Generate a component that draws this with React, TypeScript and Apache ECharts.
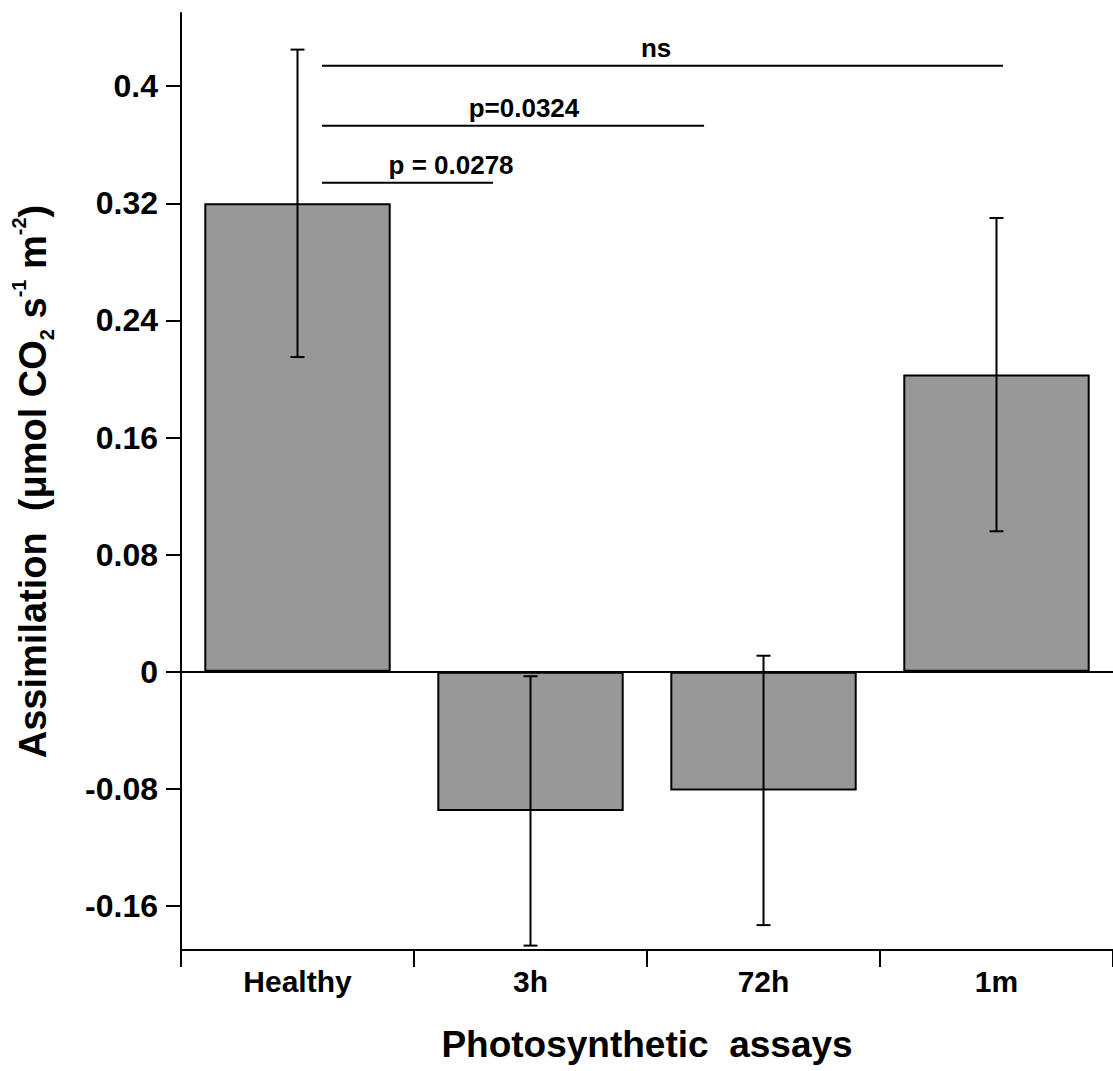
import React, { useEffect, useRef } from "react";
import * as echarts from "echarts";

const categories = ["Healthy", "3h", "72h", "1m"];
const means = [0.32, -0.095, -0.081, 0.203];
const errors = [0.105, 0.092, 0.092, 0.107];

const yTickValues = [-0.16, -0.08, 0, 0.08, 0.16, 0.24, 0.32, 0.4];
const yTickLabels = ["-0.16", "-0.08", "0", "0.08", "0.16", "0.24", "0.32", "0.4"];

// significance annotations (x in category units on a hidden 0..4 axis)
const sigLabels = ["p = 0.0278", "p=0.0324", "ns"];
const sigY = [0.334, 0.373, 0.414];
const sigX0 = [0.605, 0.605, 0.605];
const sigX1 = [1.339, 2.245, 3.528];
const sigLabelX = [1.159, 1.472, 2.039];

const FONT = "'Liberation Sans', Arial, Helvetica, sans-serif";

export default function App() {
  const ref = useRef<HTMLDivElement>(null);

  useEffect(() => {
    if (!ref.current) return;
    const chart = echarts.init(ref.current, undefined, { renderer: "svg" });

    const errData = means.map((m, i) => [i, m - errors[i], m + errors[i]]);

    const sigLineSeries = sigLabels.map((_, i) => ({
      type: "line",
      xAxisIndex: 1,
      yAxisIndex: 0,
      data: [
        [sigX0[i], sigY[i]],
        [sigX1[i], sigY[i]],
      ],
      symbol: "none",
      lineStyle: { color: "#000", width: 2 },
      silent: true,
      z: 5,
    }));

    const option: any = {
      animation: false,
      backgroundColor: "#fff",
      grid: { left: 181, right: 0, top: 13, bottom: 121, containLabel: false },
      xAxis: [
        {
          type: "category",
          data: categories,
          position: "bottom",
          axisLine: { show: true, onZero: false, lineStyle: { color: "#000", width: 2 } },
          axisTick: { show: true, length: 17, alignWithLabel: false, lineStyle: { color: "#000", width: 2 } },
          axisLabel: {
            color: "#000",
            fontFamily: FONT,
            fontWeight: "bold",
            fontSize: 30,
            margin: 16,
          },
          name: "Photosynthetic  assays",
          nameLocation: "middle",
          nameGap: 76,
          nameTextStyle: { color: "#000", fontFamily: FONT, fontWeight: "bold", fontSize: 37 },
          splitLine: { show: false },
        },
        {
          type: "value",
          min: 0,
          max: 4,
          show: false,
          position: "top",
        },
      ],
      yAxis: {
        type: "value",
        min: -0.19,
        max: 0.45,
        axisLine: { show: true, onZero: false, lineStyle: { color: "#000", width: 2 } },
        axisTick: { show: true, length: 15, customValues: yTickValues, lineStyle: { color: "#000", width: 2 } },
        axisLabel: {
          customValues: yTickValues,
          color: "#000",
          fontFamily: FONT,
          fontWeight: "bold",
          fontSize: 32,
          margin: 23,
          formatter: (v: number) => {
            let best = 0;
            for (let i = 0; i < yTickValues.length; i++) {
              if (Math.abs(yTickValues[i] - v) < Math.abs(yTickValues[best] - v)) best = i;
            }
            return yTickLabels[best];
          },
        },
        splitLine: { show: false },
        name: "{m|Assimilation  (μmol CO}{sub|2}{m| s}{sup|-1}{m| m}{sup|-2}{m|)}",
        nameLocation: "middle",
        nameRotate: 90,
        nameGap: 124,
        nameTextStyle: {
          color: "#000",
          fontFamily: FONT,
          fontWeight: "bold",
          fontSize: 38,
          rich: {
            m: { fontFamily: FONT, fontWeight: "bold", fontSize: 38, color: "#000", lineHeight: 48 },
            sup: { fontFamily: FONT, fontWeight: "bold", fontSize: 20, color: "#000", verticalAlign: "top", lineHeight: 20 },
            sub: { fontFamily: FONT, fontWeight: "bold", fontSize: 20, color: "#000", verticalAlign: "bottom", lineHeight: 20 },
          },
        },
      },
      series: [
        {
          type: "bar",
          data: means,
          barWidth: "80%",
          itemStyle: { color: "#989898", borderColor: "#000", borderWidth: 2 },
          markLine: {
            silent: true,
            symbol: ["none", "none"],
            label: { show: false },
            lineStyle: { color: "#000", width: 2, type: "solid" },
            data: [{ yAxis: 0 }],
          },
          z: 2,
        },
        {
          type: "custom",
          data: errData,
          z: 10,
          renderItem: (params: any, api: any) => {
            const x = api.value(0);
            const lo = api.coord([x, api.value(1)]);
            const hi = api.coord([x, api.value(2)]);
            const half = 7;
            const style = { stroke: "#000", lineWidth: 2 };
            return {
              type: "group",
              children: [
                { type: "line", shape: { x1: hi[0], y1: hi[1], x2: lo[0], y2: lo[1] }, style },
                { type: "line", shape: { x1: hi[0] - half, y1: hi[1], x2: hi[0] + half, y2: hi[1] }, style },
                { type: "line", shape: { x1: lo[0] - half, y1: lo[1], x2: lo[0] + half, y2: lo[1] }, style },
              ],
            };
          },
        },
        ...sigLineSeries,
        {
          type: "scatter",
          xAxisIndex: 1,
          yAxisIndex: 0,
          data: sigLabelX.map((x, i) => [x, sigY[i]]),
          symbol: "circle",
          symbolSize: 0,
          itemStyle: { color: "#000", opacity: 1 },
          silent: true,
          label: {
            show: true,
            position: "top",
            distance: 5,
            formatter: (p: any) => sigLabels[p.dataIndex],
            color: "#000",
            opacity: 1,
            fontFamily: FONT,
            fontWeight: "bold",
            fontSize: 26,
          },
          z: 6,
        },
      ],
    };

    chart.setOption(option);
    return () => chart.dispose();
  }, []);

  return (
    <div
      ref={ref}
      style={{ position: "absolute", left: 0, top: 0, width: 1113, height: 1071, background: "#fff" }}
    />
  );
}
